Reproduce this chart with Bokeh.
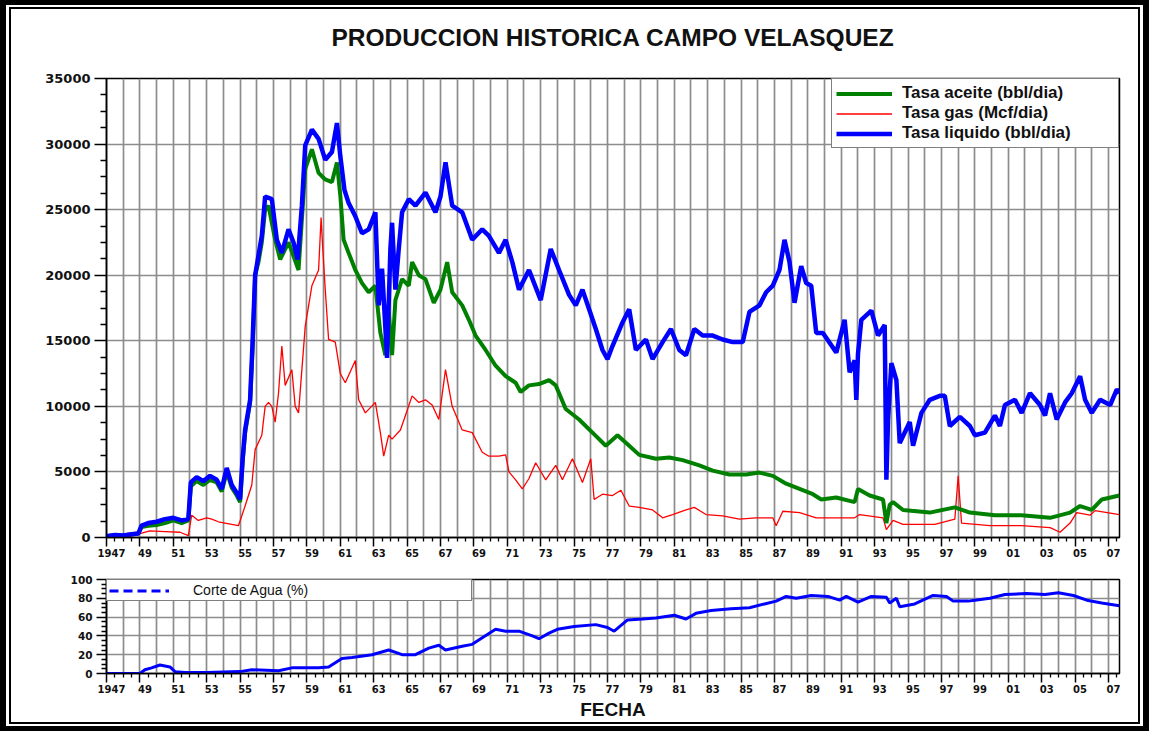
from bokeh.plotting import figure
from bokeh.layouts import column
from bokeh.models import Range1d, FixedTicker, Legend, LegendItem, Title
from bokeh.embed import file_html
from bokeh.resources import INLINE

# ---------------- data ----------------
liq_year = [1947.0, 1947.5, 1948.0, 1948.5, 1948.9, 1949.1, 1949.5, 1950.0, 1950.5, 1951.0, 1951.5, 1951.9,
            1952.05, 1952.4, 1952.8, 1953.2, 1953.6, 1953.9, 1954.2, 1954.5, 1954.8, 1955.0, 1955.15, 1955.3,
            1955.6, 1955.75, 1955.9, 1956.1, 1956.3, 1956.5, 1956.9, 1957.2, 1957.5, 1957.9, 1958.2, 1958.45,
            1958.7, 1958.9, 1959.3, 1959.7, 1960.1, 1960.5, 1960.8, 1961.0, 1961.25, 1961.5, 1961.9, 1962.3,
            1962.7, 1963.1, 1963.3, 1963.5, 1963.8, 1964.0, 1964.1, 1964.3, 1964.5, 1964.7, 1965.1, 1965.5,
            1966.1, 1966.7, 1967.0, 1967.3, 1967.7, 1968.3, 1968.9, 1969.5, 1969.9, 1970.5, 1970.9, 1971.3,
            1971.7, 1972.3, 1973.0, 1973.6, 1974.1, 1974.7, 1975.1, 1975.5, 1975.9, 1976.3, 1976.7, 1977.0,
            1977.3, 1977.9, 1978.3, 1978.7, 1979.3, 1979.7, 1980.3, 1980.8, 1981.3, 1981.7, 1982.2, 1982.7,
            1983.3, 1983.9, 1984.5, 1985.1, 1985.5, 1986.1, 1986.5, 1986.9, 1987.3, 1987.6, 1987.9, 1988.2,
            1988.6, 1988.9, 1989.2, 1989.5, 1989.9, 1990.7, 1991.2, 1991.5, 1991.8, 1991.9, 1992.0, 1992.2,
            1992.8, 1993.2, 1993.6, 1993.7, 1993.8, 1994.0, 1994.3, 1994.5, 1995.1, 1995.3, 1995.8, 1996.3,
            1996.9, 1997.2, 1997.5, 1998.1, 1998.7, 1999.0, 1999.6, 2000.2, 2000.5, 2000.8, 2001.4, 2001.8,
            2002.3, 2002.9, 2003.2, 2003.5, 2003.9, 2004.4, 2004.8, 2005.3, 2005.6, 2006.0, 2006.5, 2007.1,
            2007.5, 2007.65]
liq_rate = [100, 200, 150, 250, 300, 900, 1100, 1200, 1400, 1500, 1300, 1400,
            4200, 4600, 4300, 4700, 4400, 3700, 5300, 4000, 3400, 2900, 6000, 8200,
            10500, 15000, 20000, 21500, 23000, 26000, 25800, 22700, 21700, 23500, 22500, 21200,
            25300, 29900, 31100, 30400, 28800, 29400, 31600, 29100, 26500, 25500, 24500, 23200,
            23500, 24800, 17700, 20500, 13700, 22000, 24000, 18900, 22000, 24800, 25800, 25300,
            26300, 24800, 26000, 28600, 25300, 24800, 22700, 23500, 23000, 21700, 22700, 21000,
            18900, 20400, 18100, 22000, 20400, 18500, 17700, 18900, 17400, 15900, 14300, 13600,
            14600, 16400, 17400, 14300, 15100, 13600, 14900, 15900, 14300, 13900, 15900, 15400,
            15400, 15100, 14900, 14900, 17200, 17700, 18700, 19200, 20400, 22700, 21000, 17900,
            20700, 19400, 19200, 15600, 15600, 14100, 16600, 12600, 13500, 10500, 14000, 16600,
            17300, 15400, 16200, 4400, 9000, 13300, 12000, 7200, 8800, 7000, 9500, 10500,
            10800, 10800, 8500, 9200, 8500, 7800, 8000, 9300, 8500, 10100, 10500, 9500,
            11000, 10100, 9300, 11000, 9000, 10300, 11000, 12300, 10500, 9500, 10500, 10100,
            11300, 11000]

oil_year = [1947.0, 1947.5, 1948.0, 1948.5, 1948.9, 1949.1, 1949.5, 1950.0, 1950.5, 1951.0, 1951.5, 1951.9,
            1952.05, 1952.4, 1952.8, 1953.2, 1953.6, 1953.9, 1954.2, 1954.5, 1954.8, 1955.0, 1955.15, 1955.3,
            1955.6, 1955.75, 1955.9, 1956.1, 1956.3, 1956.5, 1956.7, 1957.1, 1957.4, 1957.9, 1958.5, 1958.9,
            1959.3, 1959.7, 1960.1, 1960.5, 1960.8, 1961.0, 1961.2, 1961.5, 1961.9, 1962.3, 1962.7, 1963.1,
            1963.4, 1963.7, 1963.9, 1964.1, 1964.3, 1964.7, 1965.1, 1965.3, 1965.7, 1966.1, 1966.6, 1967.0,
            1967.4, 1967.7, 1968.3, 1968.7, 1969.1, 1969.7, 1970.3, 1970.9, 1971.5, 1971.8, 1972.3, 1972.9,
            1973.5, 1973.9, 1974.5, 1975.3, 1976.1, 1976.9, 1977.6, 1978.3, 1978.9, 1979.9, 1980.7, 1981.5,
            1982.5, 1983.3, 1984.3, 1985.3, 1986.1, 1986.9, 1987.7, 1988.5, 1989.3, 1989.8, 1990.7, 1991.8,
            1992.0, 1992.7, 1993.5, 1993.7, 1993.9, 1994.1, 1994.7, 1996.3, 1997.8, 1998.7, 2000.2, 2001.8,
            2003.5, 2004.7, 2005.3, 2006.0, 2006.6, 2007.65]
oil_rate = [100, 200, 150, 250, 300, 800, 900, 950, 1100, 1300, 1100, 1300,
            3900, 4300, 4000, 4400, 4200, 3500, 5000, 3800, 3200, 2700, 5700, 8000,
            10300, 14500, 20000, 21000, 22500, 25000, 25300, 22700, 21200, 22500, 20400, 28100,
            29600, 27800, 27300, 27100, 28600, 26100, 22700, 21700, 20400, 19400, 18700, 19200,
            15600, 13900, 17200, 13900, 18100, 19700, 19200, 21000, 20000, 19700, 17900, 18900,
            21000, 18700, 17700, 16600, 15400, 14300, 13100, 12300, 11800, 11100, 11600, 11700,
            12000, 11600, 9800, 9000, 8000, 7000, 7800, 7000, 6300, 6000, 6100, 5900,
            5500, 5100, 4800, 4800, 4950, 4700, 4100, 3700, 3300, 2900, 3050, 2700,
            3700, 3200, 2900, 1100, 2500, 2700, 2100, 1900, 2300, 1900, 1700, 1700,
            1500, 1900, 2400, 2100, 2900, 3200]

gas_year = [1947.0, 1948.5, 1949.0, 1949.6, 1950.5, 1951.4, 1951.9, 1952.1, 1952.5, 1953.0, 1953.3, 1953.7,
            1954.1, 1954.5, 1954.9, 1955.3, 1955.7, 1955.9, 1956.3, 1956.5, 1956.7, 1956.9, 1957.1, 1957.3,
            1957.5, 1957.7, 1958.1, 1958.3, 1958.5, 1958.9, 1959.3, 1959.7, 1959.85, 1959.95, 1960.1, 1960.3,
            1960.7, 1961.0, 1961.3, 1961.9, 1962.1, 1962.5, 1963.1, 1963.4, 1963.6, 1963.9, 1964.1, 1964.6,
            1964.9, 1965.3, 1965.7, 1966.1, 1966.5, 1966.9, 1967.3, 1967.7, 1968.3, 1968.9, 1969.5, 1969.9,
            1970.5, 1970.9, 1971.1, 1971.5, 1971.9, 1972.3, 1972.7, 1973.3, 1973.9, 1974.3, 1974.9, 1975.5,
            1976.0, 1976.2, 1976.7, 1977.3, 1977.8, 1978.3, 1978.9, 1979.7, 1980.3, 1980.9, 1981.7, 1982.2,
            1982.9, 1983.9, 1984.9, 1985.9, 1986.9, 1987.1, 1987.5, 1988.5, 1989.5, 1991.8, 1992.1, 1993.5,
            1993.7, 1994.1, 1994.7, 1996.6, 1997.8, 1998.0, 1998.2, 1999.9, 2001.8, 2003.5, 2004.1, 2004.7,
            2005.1, 2005.9, 2006.2, 2007.65]
gas_rate = [50, 100, 300, 500, 450, 400, 150, 1700, 1300, 1500, 1400, 1200,
            1100, 1000, 900, 2400, 4000, 6700, 7800, 10000, 10300, 10000, 8800, 11000,
            14600, 11600, 12800, 10000, 9500, 16100, 19200, 20400, 24400, 22000, 18900, 15100,
            14900, 12500, 11800, 13500, 10500, 9500, 10300, 8000, 6200, 7800, 7500, 8200,
            9300, 10800, 10300, 10500, 10100, 9000, 12800, 10000, 8200, 8000, 6500, 6200,
            6200, 6300, 5000, 4400, 3700, 4500, 5700, 4400, 5500, 4400, 6000, 4200,
            6000, 2900, 3300, 3200, 3600, 2400, 2300, 2100, 1500, 1750, 2100, 2300,
            1750, 1650, 1400, 1500, 1500, 900, 2000, 1900, 1500, 1500, 1750, 1500,
            600, 1300, 1000, 1000, 1400, 4700, 1100, 900, 900, 750, 400, 1100,
            1900, 1700, 2050, 1750]

wc_year = [1947.0, 1949.0, 1949.3, 1949.7, 1950.2, 1950.8, 1951.1, 1951.7, 1953.0, 1955.0, 1955.7, 1957.3,
           1958.1, 1959.7, 1960.3, 1961.1, 1961.7, 1962.9, 1963.9, 1964.7, 1965.5, 1966.3, 1966.9, 1967.3,
           1968.3, 1968.9, 1969.5, 1970.3, 1970.9, 1971.7, 1972.5, 1972.9, 1973.5, 1974.0, 1975.0, 1976.3,
           1977.0, 1977.4, 1978.2, 1979.1, 1979.9, 1981.0, 1981.7, 1982.3, 1983.2, 1984.4, 1985.5, 1986.4,
           1987.1, 1987.7, 1988.3, 1989.2, 1990.2, 1990.9, 1991.3, 1992.0, 1992.8, 1993.7, 1993.9, 1994.3,
           1994.5, 1995.4, 1996.5, 1997.3, 1997.7, 1998.6, 1999.0, 1999.9, 2000.8, 2002.1, 2003.2, 2004.0,
           2004.9, 2005.7, 2006.6, 2007.65]
wc_pct = [0, 0, 4, 6, 9, 7, 2, 1, 1, 2, 4, 3,
          6, 6, 7, 16, 17, 20, 25, 20, 20, 27, 30, 25,
          29, 31, 38, 47, 45, 45, 40, 37, 43, 47, 50, 52,
          49, 45, 57, 58, 59, 62, 58, 64, 67, 69, 70, 74,
          77, 82, 80, 83, 82, 78, 82, 76, 82, 81, 75, 80,
          71, 74, 83, 82, 77, 77, 78, 80, 84, 85, 84, 86,
          83, 78, 75, 72]

series_names = ["Tasa aceite (bbl/dia)", "Tasa gas (Mcf/dia)", "Tasa liquido (bbl/dia)"]
wc_name = "Corte de Agua (%)"
title_text = "PRODUCCION HISTORICA CAMPO VELASQUEZ"
x_title = "FECHA"

x_label_years = [1947, 1949, 1951, 1953, 1955, 1957, 1959, 1961, 1963, 1965, 1967, 1969, 1971, 1973, 1975,
                 1977, 1979, 1981, 1983, 1985, 1987, 1989, 1991, 1993, 1995, 1997, 1999, 2001, 2003, 2005, 2007]
x_tick_labels = ["1947", "49", "51", "53", "55", "57", "59", "61", "63", "65", "67", "69", "71", "73", "75",
                 "77", "79", "81", "83", "85", "87", "89", "91", "93", "95", "97", "99", "01", "03", "05", "07"]
grid_years = list(range(1947, 2008))
y1_ticks = [0, 5000, 10000, 15000, 20000, 25000, 30000, 35000]
y1_tick_labels = ["0", "5000", "10000", "15000", "20000", "25000", "30000", "35000"]
y2_ticks = [0, 20, 40, 60, 80, 100]
y2_tick_labels = ["0", "20", "40", "60", "80", "100"]

# ---------------- styling ----------------
GREEN = "#008000"
RED = "#ff0000"
BLUE = "#0000ff"
GRID = "#8c8c8c"
SHIFT = "\u2002\u2002"

x_minor = [y + h for y in range(1947, 2008) for h in (0.0, 0.5)
           if (y + h) not in x_label_years and y + h <= 2007.6]
x_overrides = {yr: SHIFT + lab for yr, lab in zip(x_label_years, x_tick_labels)}

XMIN, XMAX = 1947.0, 2007.66
FIG_W = 1127


def style_common(p, y_ticks, y_minor, y_labels):
    p.background_fill_color = "white"
    p.border_fill_color = "white"
    p.outline_line_color = "black"
    p.outline_line_width = 1.5
    p.xaxis.ticker = FixedTicker(ticks=x_label_years, minor_ticks=x_minor)
    p.xaxis.major_label_overrides = x_overrides
    p.xgrid.ticker = FixedTicker(ticks=grid_years)
    p.yaxis.ticker = FixedTicker(ticks=y_ticks, minor_ticks=y_minor)
    p.yaxis.major_label_overrides = {t: l for t, l in zip(y_ticks, y_labels)}
    for g in (p.xgrid, p.ygrid):
        g.grid_line_color = GRID
        g.grid_line_width = 1.7
    for ax in (p.xaxis, p.yaxis):
        ax.axis_line_color = "black"
        ax.axis_line_width = 1.6
        ax.major_tick_line_color = "black"
        ax.major_tick_line_width = 1.5
        ax.minor_tick_line_color = "black"
        ax.minor_tick_line_width = 1.3
        ax.major_tick_in = 0
        ax.minor_tick_in = 0
        ax.major_label_text_font = "DejaVu Sans"
        ax.major_label_text_font_style = "bold"
        ax.major_label_text_color = "#111111"
    p.xaxis.major_tick_out = 9
    p.xaxis.minor_tick_out = 4
    p.xaxis.major_label_text_font_size = "10px"
    p.xaxis.major_label_standoff = 1
    p.yaxis.major_tick_out = 12
    p.yaxis.minor_tick_out = 6
    p.yaxis.major_label_text_font_size = "13px"
    p.yaxis.major_label_standoff = 4


# ---------------- top panel ----------------
p1 = figure(width=FIG_W, height=556, output_backend="svg", toolbar_location=None,
            x_range=Range1d(XMIN, XMAX), y_range=Range1d(0, 35000),
            min_border_left=95, min_border_right=19, min_border_top=69, min_border_bottom=28)
style_common(p1, y1_ticks, [v for v in range(1250, 35000, 1250) if v % 5000], y1_tick_labels)
p1.title.text = ""
# spacer between the frame and the title (added first -> nearest to the frame)
p1.add_layout(Title(text=" ", text_font_size="10px", standoff=3), "above")
p1.add_layout(Title(text=title_text, align="center", offset=-6,
                    text_font="Liberation Sans", text_font_size="24.5px",
                    text_font_style="bold", text_color="#111111", standoff=24), "above")

r_gas = p1.line(gas_year, gas_rate, line_color=RED, line_width=1.3)
r_oil = p1.line(oil_year, oil_rate, line_color=GREEN, line_width=4)
r_liq = p1.line(liq_year, liq_rate, line_color=BLUE, line_width=4.5)

leg1 = Legend(items=[LegendItem(label=series_names[0], renderers=[r_oil]),
                     LegendItem(label=series_names[1], renderers=[r_gas]),
                     LegendItem(label=series_names[2], renderers=[r_liq])],
              location="top_right", margin=0, padding=4, spacing=0,
              label_height=17, glyph_height=17, glyph_width=56, label_standoff=10, label_width=212,
              border_line_color="black", border_line_width=1.5,
              background_fill_color="white", background_fill_alpha=1.0,
              label_text_font="Liberation Sans", label_text_font_size="17px",
              label_text_font_style="bold", label_text_color="#111111")
p1.add_layout(leg1)

# ---------------- bottom panel ----------------
p2 = figure(width=FIG_W, height=157, output_backend="svg", toolbar_location=None,
            x_range=p1.x_range, y_range=Range1d(0, 100),
            min_border_left=95, min_border_right=19, min_border_top=14, min_border_bottom=46)
style_common(p2, y2_ticks, [v for v in range(5, 100, 5) if v % 20], y2_tick_labels)
p2.yaxis.major_tick_out = 10
p2.yaxis.minor_tick_out = 5
p2.yaxis.major_label_text_font_size = "10.5px"

p2.line(wc_year, wc_pct, line_color=BLUE, line_width=3)
# legend sample: dashed line (single point, so nothing is drawn in the plot area)
r_wc_leg = p2.line(wc_year[:1], wc_pct[:1], line_color=BLUE, line_width=3, line_dash="9 5")

p2.xaxis.axis_label = x_title
p2.xaxis.axis_label_text_font = "Liberation Sans"
p2.xaxis.axis_label_text_font_size = "19px"
p2.xaxis.axis_label_text_font_style = "bold"
p2.xaxis.axis_label_text_color = "#111111"
p2.xaxis.axis_label_standoff = 1

leg2 = Legend(items=[LegendItem(label=wc_name, renderers=[r_wc_leg])],
              location="top_left", margin=0, padding=2,
              label_height=13, glyph_height=13, glyph_width=60, label_standoff=24, label_width=276,
              border_line_color="black", border_line_width=1.5,
              background_fill_color="white", background_fill_alpha=1.0,
              label_text_font="Liberation Sans", label_text_font_size="14px",
              label_text_color="#111111")
p2.add_layout(leg2)

inner = column(p1, p2, styles={"border": "2px solid black", "background-color": "white"})
outer = column(inner, styles={"border-style": "solid", "border-color": "black",
                              "border-width": "5px 6px", "padding": "2px 3px",
                              "background-color": "white"})

with open("out.html", "w") as f:
    f.write(file_html(outer, INLINE))
